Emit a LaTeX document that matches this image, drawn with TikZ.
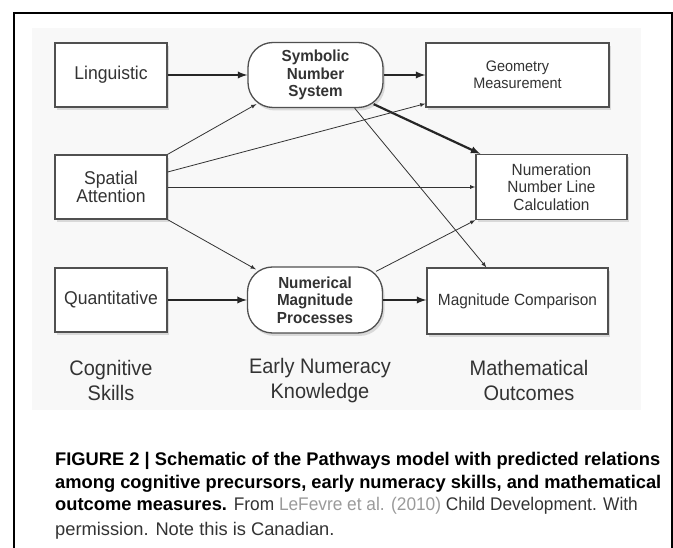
\documentclass[tikz,border=0pt]{standalone}
\usepackage{fontspec}
\setmainfont{Liberation Sans}
\newfontfamily\diagfont[FakeStretch=0.95]{Liberation Sans}
\newfontfamily\capnarrow[FakeStretch=0.945]{Liberation Sans}
\usetikzlibrary{positioning, arrows, calc, shadows}
\definecolor{boxline}{HTML}{505050}
\definecolor{txtgrey}{HTML}{333333}
\definecolor{refgrey}{HTML}{9A9A9A}
\definecolor{panel}{HTML}{F8F8F8}

\tikzset{
	skillbox/.style={draw=boxline, line width=1.3pt, fill=white, minimum width=112pt, minimum height=64pt,
		align=center, font=\diagfont\fontsize{18.5}{18}\selectfont, text=txtgrey,
		drop shadow={opacity=0.25, shadow xshift=2pt, shadow yshift=-3pt}},
	outbox/.style={skillbox, minimum width=183pt, font=\diagfont\fontsize{16.2}{17.5}\selectfont},
	knowbox/.style={skillbox, rounded corners=25pt, minimum width=135pt, minimum height=65pt,
		font=\diagfont\bfseries\fontsize{16}{17.5}\selectfont},
	colhead/.style={align=center, text=txtgrey, font=\diagfont\fontsize{21}{25}\selectfont},
	capline/.style={anchor=base west, inner sep=0pt, text=txtgrey, font=\fontsize{18.3}{23}\selectfont},
	strong/.style={-latex, line width=2.2pt, draw=black!85},
	weak/.style={-latex, line width=0.8pt, draw=black!80}
}

\begin{document}
\begin{tikzpicture}[x=1pt,y=1pt,>=latex,node distance=112pt,on grid,auto]
		\useasboundingbox (0,0) rectangle (673,-548);
		
		%Frame and panel
		\fill[panel] (32,-28) rectangle (641,-410);
		\draw[line width=1.2pt] (14,-548) -- (14,-13) -- (672,-13) -- (672,-548);
		
		%Cognitive skills
		\node[skillbox] (ling) at (111,-75) {Linguistic};
		\node[skillbox] (spat) [below=of ling] {Spatial\\Attention};
		\node[skillbox] (quant) [below=225pt of ling] {Quantitative};
		
		%Early numeracy knowledge
		\node[knowbox] (sym) [right=204.5pt of ling] {Symbolic\\Number\\System};
		\node[knowbox, minimum height=66pt] (nmp) [right=204pt of quant] {Numerical\\Magnitude\\Processes};
		
		%Mathematical outcomes
		\node[outbox, font=\diagfont\fontsize{15.2}{16.7}\selectfont] (geo) [right=202pt of sym] {Geometry\\Measurement};
		\node[outbox, minimum width=151pt, minimum height=65pt] (numer) [right=440.5pt of spat] {Numeration\\Number Line\\Calculation};
		\node[outbox, minimum width=181pt, minimum height=66pt] (magc) [right=202.5pt of nmp, yshift=-1pt] {Magnitude Comparison};
		
		%Column headings
		\node[colhead] (cog) [below=80.5pt of quant] {Cognitive\\Skills};
		\node[colhead] (early) [below=80.5pt of quant, xshift=209pt] {Early Numeracy\\Knowledge};
		\node[colhead] (math) [below=80.5pt of quant, xshift=418pt] {Mathematical\\Outcomes};
		
		%Paths
		\path
		(ling) edge[strong] (sym)
		(sym) edge[strong] (geo)
		($(sym.south east)+(-10pt,4pt)$) edge[strong] ($(numer.north west)+(5pt,0pt)$)
		($(sym.south east)+(-29pt,0pt)$) edge[weak] ($(magc.north west)+(60pt,0pt)$)
		(spat.north east) edge[weak] ($(sym.south west)+(9pt,4pt)$)
		($(spat.east)+(0pt,15pt)$) edge[weak] ($(geo.south west)+(0pt,4pt)$)
		(spat.east) edge[weak] (numer.west)
		(spat.south east) edge[weak] ($(nmp.north west)+(9pt,-3pt)$)
		($(nmp.north east)+(-7pt,-5pt)$) edge[weak] (numer.south west)
		(quant) edge[strong] (nmp)
		(nmp) edge[strong] (magc.west |- nmp);
		
		%Caption
		\node[capline] (cap1) at (55,-465) {\textcolor{black}{\bfseries FIGURE 2 | Schematic of the Pathways model with predicted relations}};
		\node[capline] (cap2) at (55,-488) {\textcolor{black}{\bfseries among cognitive precursors, early numeracy skills, and mathematical}};
		\node[capline] (cap3) at (55,-511) {\textcolor{black}{\bfseries outcome measures.} {\capnarrow From \textcolor{refgrey}{LeFevre et al. (2010)} Child Development. With}};
		\node[capline] (cap4) at (55,-535) {permission. Note this is Canadian.};
		
\end{tikzpicture}
\end{document}
